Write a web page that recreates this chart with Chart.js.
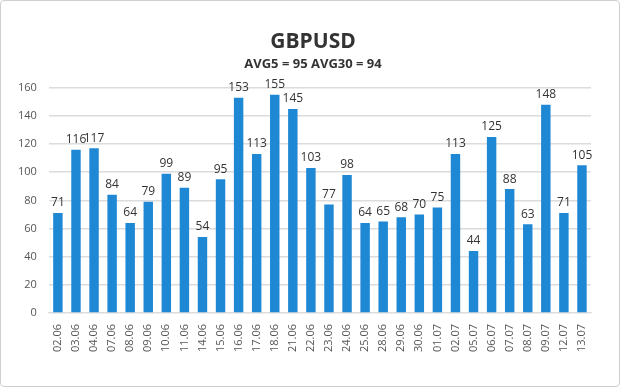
<!DOCTYPE html>
<html>
<head>
<meta charset="utf-8">
<script src="https://cdn.jsdelivr.net/npm/chart.js@4/dist/chart.umd.min.js"></script>
<style>
    html, body { margin: 0; padding: 0; background: #fff; }
    #wrap {
        width: 620px; height: 387px; box-sizing: border-box;
        border: 1px solid #cfcfcf; border-radius: 4px; background: #fff;
    }
</style>
</head>
<body>
<div id="wrap"><canvas id="chart" width="618" height="385"></canvas></div>
<script>
// GBPUSD daily volatility (points)
const dates = ['02.06', '03.06', '04.06', '07.06', '08.06', '09.06', '10.06', '11.06', '14.06', '15.06',
    '16.06', '17.06', '18.06', '21.06', '22.06', '23.06', '24.06', '25.06', '28.06', '29.06',
    '30.06', '01.07', '02.07', '05.07', '06.07', '07.07', '08.07', '09.07', '12.07', '13.07'];
const values = [71, 116, 117, 84, 64, 79, 99, 89, 54, 95,
    153, 113, 155, 145, 103, 77, 98, 64, 65, 68,
    70, 75, 113, 44, 125, 88, 63, 148, 71, 105];
const yTicks = [0, 20, 40, 60, 80, 100, 120, 140, 160];
const titleText = 'GBPUSD';
const subtitleText = 'AVG5 = 95 AVG30 = 94';

// horizontal gradient per bar so it looks like the excel 3D columns
const barFill = (ctx) => {
    const chart = ctx.chart;
    const el = chart.getDatasetMeta(ctx.datasetIndex).data[ctx.dataIndex];
    if (!el || !chart.chartArea || isNaN(el.x)) return '#1f88d4';
    const w = el.width || 10;
    const g = chart.ctx.createLinearGradient(el.x - w / 2, 0, el.x + w / 2, 0);
    g.addColorStop(0, '#4aa5e4');
    g.addColorStop(0.45, '#238dd8');
    g.addColorStop(0.75, '#1779c4');
    g.addColorStop(0.78, '#0e5d9a');
    g.addColorStop(1, '#0b4f86');
    return g;
};

// values written above each column
const valueLabels = {
    id: 'valueLabels',
    afterDatasetsDraw(chart) {
        const { ctx } = chart;
        const meta = chart.getDatasetMeta(0);
        ctx.save();
        ctx.font = '12px "Open Sans", sans-serif';
        ctx.fillStyle = '#333';
        ctx.textAlign = 'center';
        ctx.textBaseline = 'bottom';
        meta.data.forEach((bar, i) => {
            ctx.fillText(values[i], bar.x, bar.y - 4);
        });
        ctx.restore();
    }
};

// the titles sit on the middle of the whole picture, not of the padded area
const centerTitles = {
    id: 'centerTitles',
    afterLayout(chart) {
        const shift = chart.width / 2 - (chart.titleBlock.left + chart.titleBlock.right) / 2 + 3;
        chart.boxes.forEach((b) => {
            if (b.options && (b.options.text === titleText || b.options.text === subtitleText)) {
                b.left += shift;
                b.right += shift;
            }
        });
    }
};

const ctx = document.getElementById('chart').getContext('2d');
new Chart(ctx, {
    type: 'bar',
    data: {
        labels: dates,
        datasets: [{
            data: values,
            backgroundColor: barFill,
            borderWidth: 0,
            barPercentage: 0.55,
            categoryPercentage: 0.95,
        }],
    },
    options: {
        responsive: false,
        animation: false,
        layout: { padding: { top: 18, left: 5, right: 28, bottom: 31 } },
        scales: {
            x: {
                grid: { display: false },
                border: { color: '#dcdcdc' },
                ticks: {
                    color: '#555',
                    font: { size: 11, family: '"Open Sans", sans-serif' },
                    minRotation: 90,
                    maxRotation: 90,
                    autoSkip: false,
                },
            },
            y: {
                min: 0,
                max: 160,
                afterBuildTicks: (axis) => { axis.ticks = yTicks.map(v => ({ value: v })); },
                grid: { color: '#dcdcdc', lineWidth: 1.5, drawTicks: false },
                border: { display: false },
                ticks: {
                    color: '#555',
                    padding: 12,
                    font: { size: 11, family: '"Open Sans", sans-serif' },
                },
            },
        },
        plugins: {
            legend: { display: false },
            tooltip: { enabled: false },
            title: {
                display: true,
                text: titleText,
                color: '#333',
                font: { size: 21, weight: 'bold', family: '"Open Sans", sans-serif' },
                padding: { top: 10, bottom: 0 },
            },
            subtitle: {
                display: true,
                text: subtitleText,
                color: '#333',
                font: { size: 13, weight: 'bold', family: '"Open Sans", sans-serif' },
                padding: { top: 2, bottom: 16 },
            },
        },
    },
    plugins: [valueLabels, centerTitles],
});
</script>
</body>
</html>
